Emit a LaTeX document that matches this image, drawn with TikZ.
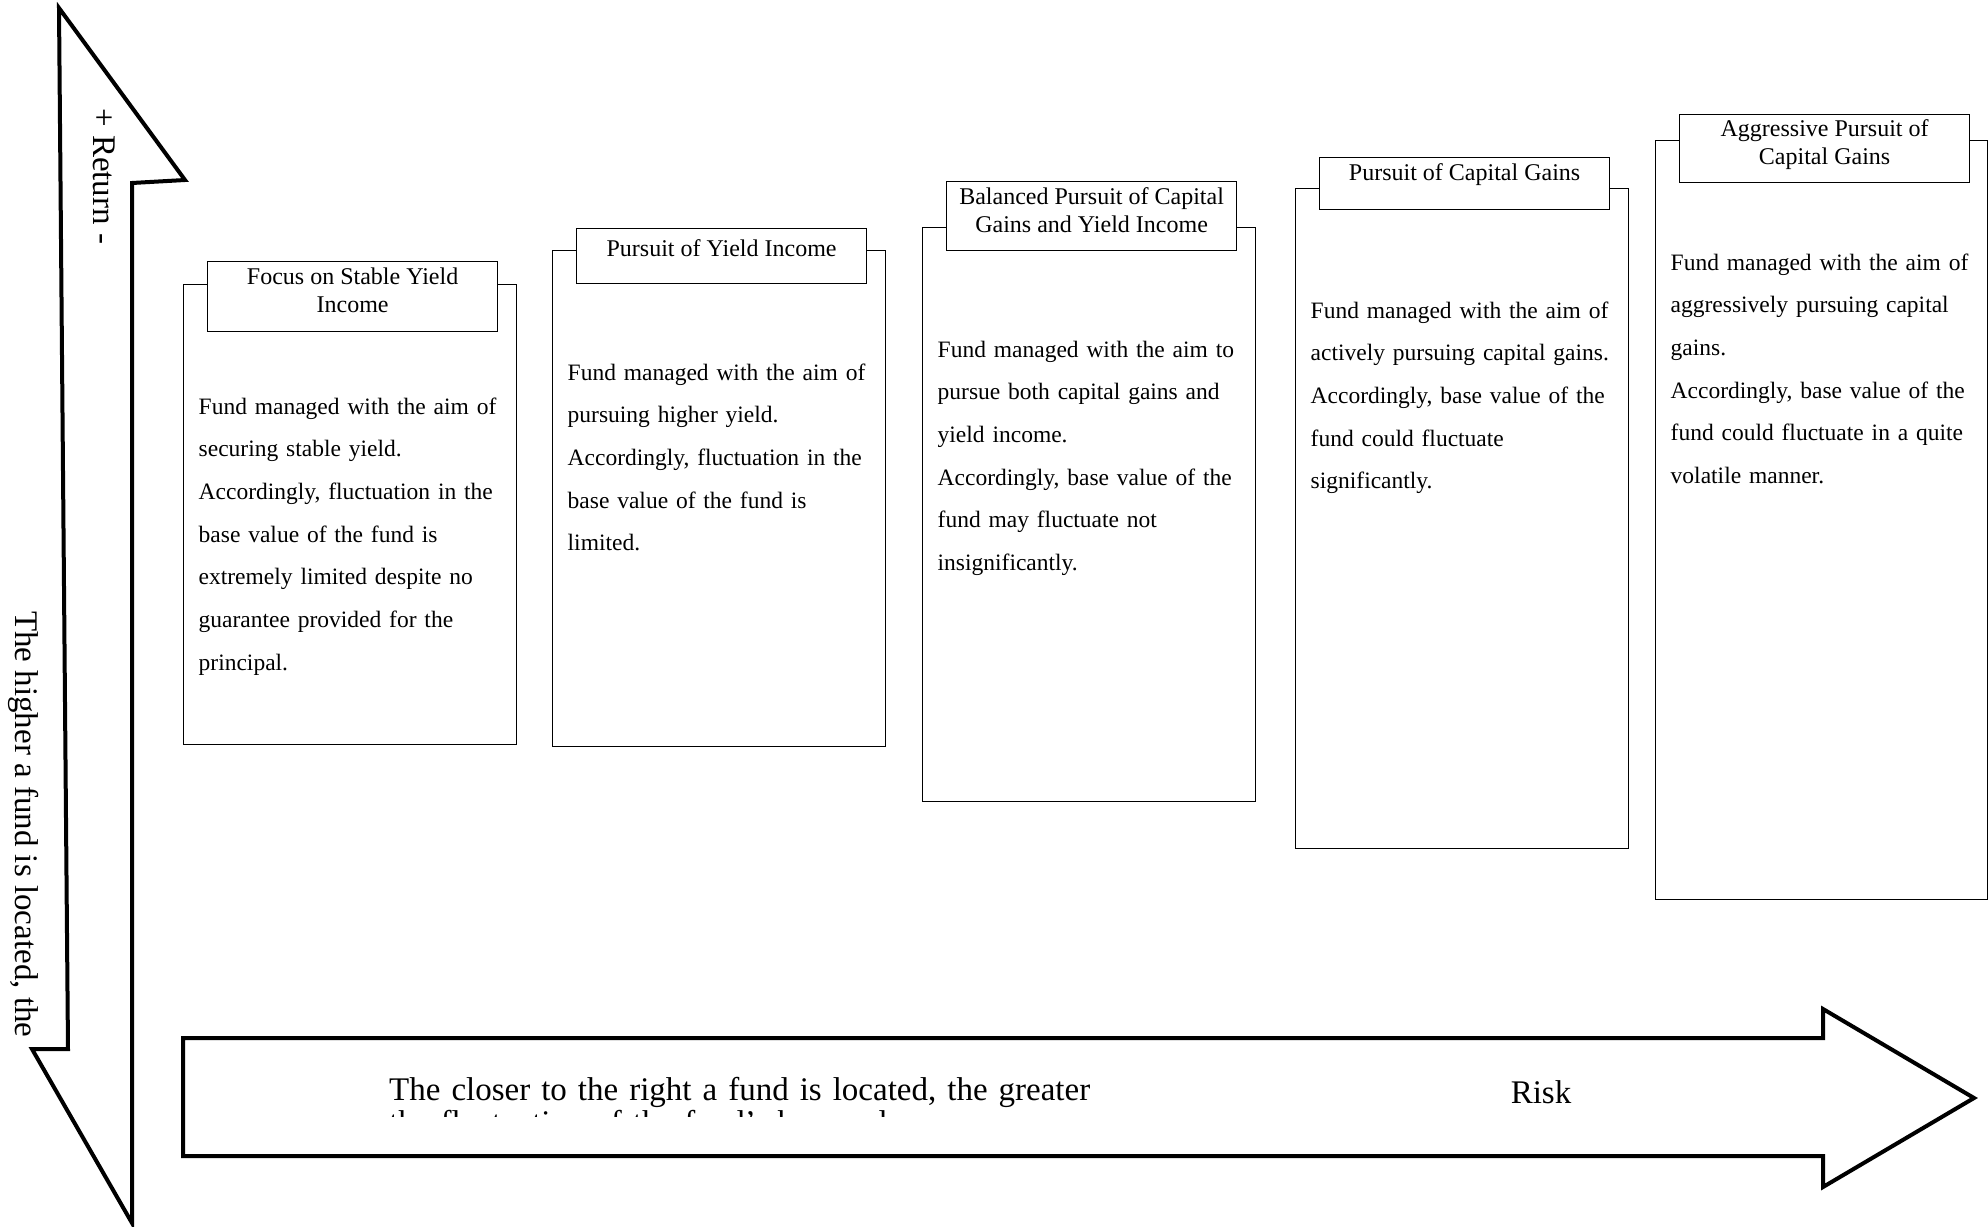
\documentclass[tikz,border=0pt]{standalone}
\usepackage{fontspec}
\setmainfont{Liberation Serif}
\usepackage{tikz}
\usetikzlibrary{positioning, calc}
\newcommand{\headFont}{\fontsize{24}{28}\selectfont}
\newcommand{\bodyFont}{\fontsize{23.5}{42.7}\selectfont}
\newcommand{\bigFont}{\fontsize{33}{33}\selectfont}
\tikzstyle{bigarrow} = [line width=4pt, line join=miter, draw=black, fill=white]
\tikzstyle{fundbox} = [rectangle, draw=black, line width=1pt, minimum width=333pt, inner sep=0pt, anchor=north west]
\tikzstyle{headbox} = [rectangle, draw=black, fill=white, line width=1.2pt, minimum width=290pt, inner sep=0pt, align=center, font=\headFont, anchor=north west, xshift=24pt]
\tikzstyle{bodytext} = [text width=310pt, align=left, inner sep=0pt, font=\bodyFont, anchor=base west, xshift=15.5pt, yshift=-130pt]
\tikzstyle{bigtext} = [inner sep=0pt, font=\bigFont]

\begin{document}
\begin{tikzpicture}[x=1pt, y=-1pt]
\useasboundingbox (0,0) rectangle (1988,1226);

\draw [bigarrow] (59,8) -- (185,180) -- (132,183) -- (132,1223) -- (32,1049) -- (68,1049) -- cycle;
\draw [bigarrow] (183,1038) -- (1823,1038) -- (1823,1009) -- (1974,1098) -- (1823,1187) -- (1823,1156) -- (183,1156) -- cycle;

\node (returnLabel) [bigtext, rotate=-90, anchor=base west] at (93,108) {+ Return -};
\node (higherLabel) [bigtext, rotate=-90, anchor=base west] at (16,611) {The higher a fund is located, the};

\node (fund1) [fundbox, minimum height=460pt] at (183,284) {};
\node (head1) [headbox, minimum height=70pt, yshift=23pt, text depth=13pt] at (fund1.north west) {Focus on Stable Yield\\Income};
\node (body1) [bodytext] at (fund1.north west) {Fund managed with the aim of\\securing stable yield.\\Accordingly, fluctuation in the\\base value of the fund is\\extremely limited despite no\\guarantee provided for the\\principal.};

\node (fund2) [fundbox, minimum height=496pt] at (552,250) {};
\node (head2) [headbox, minimum height=55pt, yshift=22pt, text depth=17pt] at (fund2.north west) {Pursuit of Yield Income};
\node (body2) [bodytext] at (fund2.north west) {Fund managed with the aim of\\pursuing higher yield.\\Accordingly, fluctuation in the\\base value of the fund is\\limited.};

\node (fund3) [fundbox, minimum height=574pt] at (922,227) {};
\node (head3) [headbox, minimum height=69pt, yshift=46pt, text depth=13pt] at (fund3.north west) {Balanced Pursuit of Capital\\Gains and Yield Income};
\node (body3) [bodytext] at (fund3.north west) {Fund managed with the aim to\\pursue both capital gains and\\yield income.\\Accordingly, base value of the\\fund may fluctuate not\\insignificantly.};

\node (fund4) [fundbox, minimum height=660pt] at (1295,188) {};
\node (head4) [headbox, minimum height=52pt, yshift=31pt, text depth=24pt] at (fund4.north west) {Pursuit of Capital Gains};
\node (body4) [bodytext] at (fund4.north west) {Fund managed with the aim of\\actively pursuing capital gains.\\Accordingly, base value of the\\fund could fluctuate\\significantly.};

\node (fund5) [fundbox, minimum width=332pt, minimum height=759pt] at (1655,140) {};
\node (head5) [headbox, minimum height=68pt, yshift=26.5pt, text depth=13pt] at (fund5.north west) {Aggressive Pursuit of\\Capital Gains};
\node (body5) [bodytext] at (fund5.north west) {Fund managed with the aim of\\aggressively pursuing capital\\gains.\\Accordingly, base value of the\\fund could fluctuate in a quite\\volatile manner.};

\node (risk) [bigtext, anchor=base] at (1541,1103) {Risk};
\begin{scope}
\clip (183,1040) rectangle (1823,1116);
\node (closer) [bigtext, text width=800pt, align=left, anchor=base west] at (389,1100) {The closer to the right a fund is located, the greater\\the fluctuation of the fund's base value.};
\end{scope}

\end{tikzpicture}
\end{document}
